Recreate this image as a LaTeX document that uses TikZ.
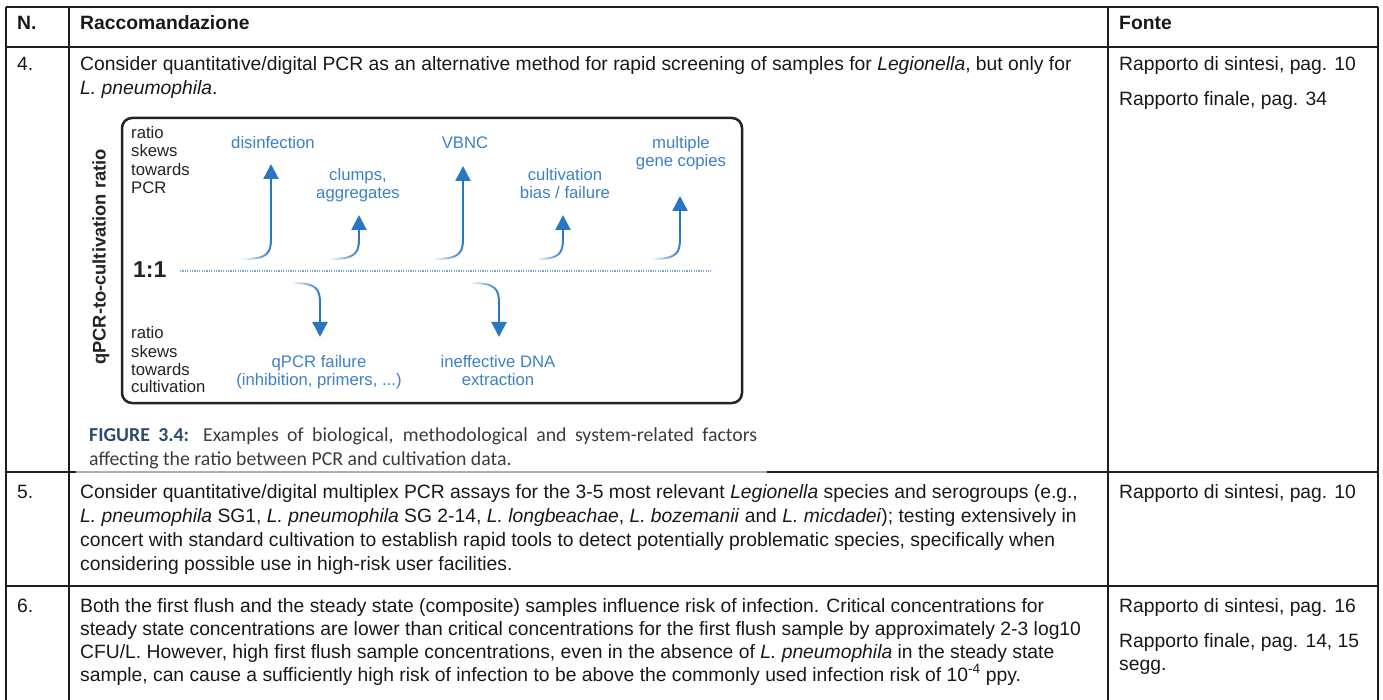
\documentclass[tikz,border=0pt]{standalone}
\usepackage{fontspec}
\setmainfont{Liberation Sans}
\newfontfamily\capfont{Carlito}
\usetikzlibrary{arrows.meta,fadings}
\definecolor{tline}{RGB}{30,30,30}
\definecolor{ttext}{RGB}{25,25,25}
\definecolor{figblue}{RGB}{62,128,200}
\definecolor{arrblue}{RGB}{40,118,196}
\definecolor{dotblue}{RGB}{120,170,220}
\definecolor{figdark}{RGB}{35,35,35}
\definecolor{capblue}{RGB}{45,75,112}
\definecolor{capgray}{RGB}{60,60,60}
\definecolor{imgedge}{RGB}{175,175,175}
\begin{document}
\begin{tikzpicture}[x=1pt,y=-1pt,
  tgrid/.style={draw=tline,line width=1.3pt},
  tbody/.style={anchor=base west,inner sep=0pt,text=ttext,font=\fontsize{19.3}{23}\selectfont},
  thead/.style={anchor=base west,inner sep=0pt,text=ttext,font=\fontsize{19.3}{23}\selectfont\bfseries},
  flab/.style={anchor=base,inner sep=0pt,text=figblue,font=\fontsize{16.7}{18}\selectfont},
  fside/.style={anchor=base west,inner sep=0pt,text=figdark,font=\fontsize{16.7}{18}\selectfont},
  farr/.style={draw=arrblue,line width=2.3pt,-{Triangle[width=15pt,length=15pt]}},
  ftail/.style={draw=arrblue,line width=2pt,path fading=west},
  captext/.style={anchor=base west,inner sep=0pt,text=capgray,font=\capfont\fontsize{19.8}{24}\selectfont}
]
\useasboundingbox (0,0) rectangle (1383,700);
\fill[white] (0,0) rectangle (1383,700);
% table grid
\draw[tgrid] (6,7) -- (1378,7);
\draw[tgrid] (6,47) -- (1378,47);
\draw[tgrid] (6,472) -- (1378,472);
\draw[draw=imgedge,line width=1.3pt] (76,472) -- (767,472);
\draw[tgrid] (6,586) -- (1378,586);
\draw[tgrid] (6,7) -- (6,700);
\draw[tgrid] (69,7) -- (69,700);
\draw[tgrid] (1108,7) -- (1108,700);
\draw[tgrid] (1378,7) -- (1378,700);
% header
\node[thead] (hN) at (17,30) {N.};
\node[thead] (hR) at (80,30) {Raccomandazione};
\node[thead] (hF) at (1119,30) {Fonte};
% row 4
\node[tbody] (n4) at (17,71) {4.};
\node[tbody] (r4a) at (80,71) {Consider quantitative/digital PCR as an alternative method for rapid screening of samples for \textit{Legionella}, but only for};
\node[tbody] (r4b) at (80,95) {\textit{L. pneumophila}.};
\node[tbody] (f4a) at (1119,71) {Rapporto di sintesi, pag. 10};
\node[tbody] (f4b) at (1119,106) {Rapporto finale, pag. 34};
% figure
\draw[draw=figdark,line width=2.5pt,rounded corners=10pt] (122,118) rectangle (742,403);
\node[rotate=90,inner sep=0pt,text=figdark,font=\fontsize{18.3}{20}\selectfont\bfseries] (ylab) at (101,257) {qPCR-to-cultivation ratio};
\node[fside] (t1) at (131,138.5) {ratio};
\node[fside] (t2) at (131,157) {skews};
\node[fside] (t3) at (131,175.5) {towards};
\node[fside] (t4) at (131,193.5) {PCR};
\node[fside] (b1) at (131,338.5) {ratio};
\node[fside] (b2) at (131,357) {skews};
\node[fside] (b3) at (131,375) {towards};
\node[fside] (b4) at (131,392.5) {cultivation};
\node[anchor=base west,inner sep=0pt,text=figdark,font=\fontsize{23}{25}\selectfont\bfseries] (one) at (133,278) {1:1};
\draw[draw=dotblue,line width=1.5pt,dash pattern=on 1.2pt off 1.2pt] (180,271) -- (711,271);
% labels
\node[flab] (l1) at (273,148.5) {disinfection};
\node[flab] (l2a) at (358,180.5) {clumps,};
\node[flab] (l2b) at (358,198.5) {aggregates};
\node[flab] (l3) at (465,149) {VBNC};
\node[flab] (l4a) at (565,180.5) {cultivation};
\node[flab] (l4b) at (565,198.5) {bias / failure};
\node[flab] (l5a) at (681,148.5) {multiple};
\node[flab] (l5b) at (681,166.5) {gene copies};
\node[flab] (l6a) at (319,367.5) {qPCR failure};
\node[flab] (l6b) at (319,385) {(inhibition, primers, ...)};
\node[flab] (l7a) at (498,367.5) {ineffective DNA};
\node[flab] (l7b) at (498,385) {extraction};
% arrows up: faded tail + solid shaft with head
\draw[ftail] (243,259) .. controls (268,259) and (271,253) .. (271,238);
\draw[farr] (271,239) -- (271,164);
\draw[ftail] (330,259) .. controls (356,259) and (359,253) .. (359,238);
\draw[farr] (359,239) -- (359,215);
\draw[ftail] (434,259) .. controls (460,259) and (463,253) .. (463,238);
\draw[farr] (463,239) -- (463,166);
\draw[ftail] (537,259) .. controls (560,259) and (563,253) .. (563,238);
\draw[farr] (563,239) -- (563,215);
\draw[ftail] (652,259) .. controls (677,259) and (680,253) .. (680,238);
\draw[farr] (680,239) -- (680,196);
% arrows down
\draw[ftail] (292,283) .. controls (317,283) and (320,289) .. (320,304);
\draw[farr] (320,303) -- (320,337);
\draw[ftail] (471,283) .. controls (496,283) and (499,289) .. (499,304);
\draw[farr] (499,303) -- (499,337);
% caption
\node[captext] (c1) at (89,441) {\makebox[668pt][s]{\textcolor{capblue}{\bfseries FIGURE 3.4:} Examples of biological, methodological and system-related factors}};
\node[captext] (c2) at (89,465) {affecting the ratio between PCR and cultivation data.};
% row 5
\node[tbody] (n5) at (17,498) {5.};
\node[tbody] (r5a) at (80,498) {Consider quantitative/digital multiplex PCR assays for the 3-5 most relevant \textit{Legionella} species and serogroups (e.g.,};
\node[tbody] (r5b) at (80,522) {\textit{L. pneumophila} SG1, \textit{L. pneumophila} SG 2-14, \textit{L. longbeachae}, \textit{L. bozemanii} and \textit{L. micdadei}); testing extensively in};
\node[tbody] (r5c) at (80,546) {concert with standard cultivation to establish rapid tools to detect potentially problematic species, specifically when};
\node[tbody] (r5d) at (80,570) {considering possible use in high-risk user facilities.};
\node[tbody] (f5a) at (1119,498) {Rapporto di sintesi, pag. 10};
% row 6
\node[tbody] (n6) at (17,612) {6.};
\node[tbody] (r6a) at (80,612) {Both the first flush and the steady state (composite) samples influence risk of infection. Critical concentrations for};
\node[tbody] (r6b) at (80,635) {steady state concentrations are lower than critical concentrations for the first flush sample by approximately 2-3 log10};
\node[tbody] (r6c) at (80,658) {CFU/L. However, high first flush sample concentrations, even in the absence of \textit{L. pneumophila} in the steady state};
\node[tbody] (r6d) at (80,681) {sample, can cause a sufficiently high risk of infection to be above the commonly used infection risk of 10\textsuperscript{-4} ppy.};
\node[tbody] (f6a) at (1119,612) {Rapporto di sintesi, pag. 16};
\node[tbody] (f6b) at (1119,647) {Rapporto finale, pag. 14, 15};
\node[tbody] (f6c) at (1119,670) {segg.};
\end{tikzpicture}
\end{document}
